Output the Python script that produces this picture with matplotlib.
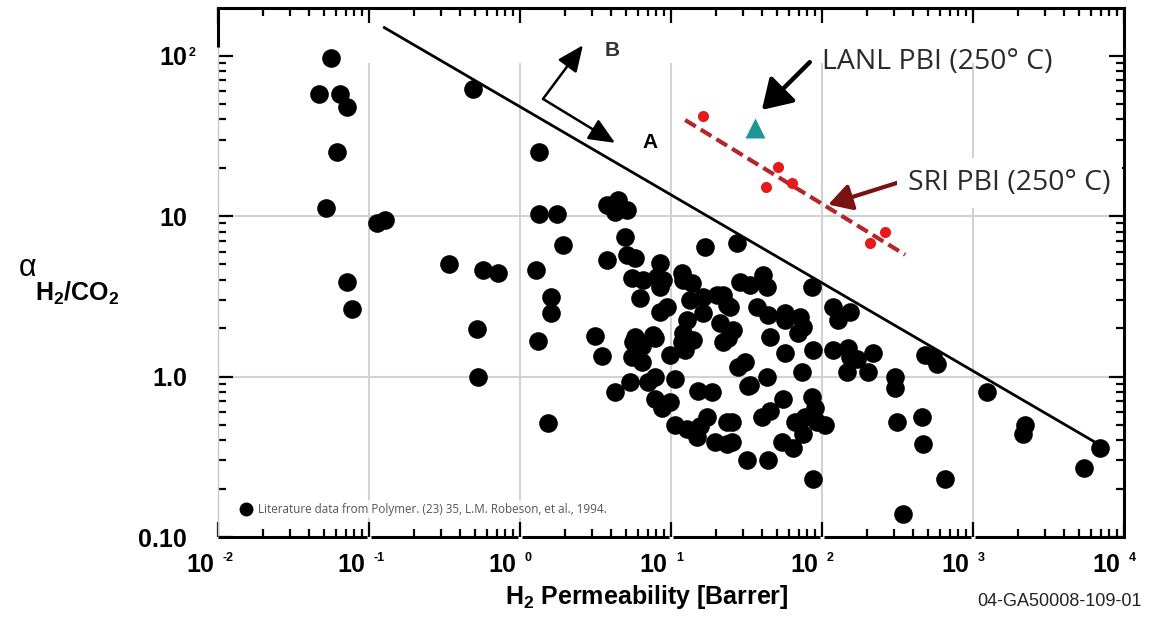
import matplotlib
matplotlib.use("Agg")
import matplotlib.pyplot as plt
from matplotlib.lines import Line2D

plt.rcParams["font.family"] = ["Liberation Sans", "DejaVu Sans"]
plt.rcParams["mathtext.fontset"] = "custom"
plt.rcParams["mathtext.bf"] = "Liberation Sans:bold"
plt.rcParams["mathtext.rm"] = "Liberation Sans"
plt.rcParams["mathtext.it"] = "Liberation Sans:italic"

# ── Robeson 1994 literature data: H2 permeability [Barrer] vs H2/CO2 selectivity
lit_perm = [
    0.056, 0.047, 0.064, 0.071, 0.061, 0.052, 0.113, 0.128, 0.071, 0.077,
    0.49, 0.34, 0.57, 0.71, 0.52, 0.53,
    1.28, 1.60, 1.60, 1.32, 1.53, 1.34, 1.34, 1.76, 1.93,
    3.77, 4.46, 5.11, 4.26, 4.96, 3.77, 5.11, 5.78, 8.46, 5.52, 6.53, 8.08,
    8.85, 8.46, 6.23, 8.46, 9.4, 16.8, 27.4, 11.8, 13.8, 12.0,
    3.14, 5.78, 7.6, 3.49, 5.6, 6.43, 7.8, 5.52, 6.43, 9.85, 11.8, 14.0, 12.4,
    5.35, 7.04, 7.8, 10.6, 4.26, 7.8, 8.7, 9.85, 15.1, 18.7,
    10.6, 12.8, 14.9, 17.3, 19.6, 23.5, 15.6, 23.5, 22.1,
    31.9, 43.9, 25.4, 32.4, 43.2, 55.2, 40.1, 45.3,
    28.6, 33.4, 40.7, 43.2, 85.9, 22.1, 24.6, 37.1, 43.9, 56.9, 71.5, 74.8,
    118, 153, 128, 25.7, 45.3, 23.9, 69.3, 56.9, 87.1, 27.8, 30.9, 33.4, 73.7,
    118, 149, 171, 218, 146, 202, 85.9, 90, 25.4, 66.2, 77.1, 92.7, 105,
    74.8, 54.3, 64.3, 87.1, 56.9, 153,
    304, 304, 481, 543, 578, 1240, 314, 459, 467, 653, 344,
    2210, 2140, 6930, 5430,
    13.4, 16.3, 20.2, 23.5, 12.8, 16.3, 21.1, 12.0,
]
lit_sel = [
    97, 58, 58, 48, 25, 11.3, 9.1, 9.5, 3.9, 2.65,
    62, 5.05, 4.6, 4.4, 1.99, 1.0,
    4.6, 3.15, 2.5, 1.67, 0.51, 25, 10.3, 10.3, 6.6,
    11.8, 12.6, 10.9, 10.6, 7.4, 5.35, 5.7, 5.5, 5.1, 4.1, 4.0, 4.2,
    4.0, 3.6, 3.1, 2.54, 2.7, 6.4, 6.8, 4.4, 3.85, 4.0,
    1.8, 1.77, 1.82, 1.35, 1.65, 1.54, 1.75, 1.33, 1.24, 1.37, 1.65, 1.70, 1.47,
    0.93, 0.93, 1.0, 0.97, 0.80, 0.72, 0.64, 0.69, 0.81, 0.80,
    0.50, 0.47, 0.42, 0.56, 0.39, 0.38, 0.49, 0.52, 1.63,
    0.30, 0.30, 0.39, 0.87, 1.0, 0.72, 0.56, 0.61,
    3.9, 3.7, 4.3, 3.6, 3.6, 3.24, 2.7, 2.7, 2.43, 2.5, 2.36, 2.05,
    2.7, 2.54, 2.26, 1.96, 1.77, 1.75, 1.88, 1.41, 1.47, 1.15, 1.24, 0.89, 1.06,
    1.47, 1.51, 1.28, 1.41, 1.06, 1.06, 0.75, 0.64, 0.52, 0.52, 0.56, 0.52, 0.50,
    0.44, 0.39, 0.36, 0.23, 2.26, 1.33,
    1.0, 0.85, 1.37, 1.33, 1.19, 0.80, 0.52, 0.56, 0.38, 0.23, 0.14,
    0.50, 0.44, 0.36, 0.27,
    3.0, 3.15, 3.24, 2.8, 2.26, 2.5, 2.17, 1.88,
]

# upper bound line
bound_perm = [0.124, 6430]
bound_sel = [151, 0.39]

# SRI PBI at 250 C and its trend line
sri_perm = [16.3, 51.1, 63.3, 42.6, 261, 208]
sri_sel = [42, 20.3, 16.1, 15.2, 7.9, 6.8]
sri_fit_perm = [12.4, 355]
sri_fit_sel = [39.7, 5.74]

# LANL PBI at 250 C
lanl_perm = [36]
lanl_sel = [35.4]

# annotation arrows (tail -> head, data coords)
lanl_arrow = ((83, 91), (40, 45.9))
sri_arrow = ((314, 16.1), (110, 11.8))
ab_corner = (1.42, 53.7)
a_head = (4.26, 28.6)
b_head = (2.61, 116)

x_decades = [1e-2, 1e-1, 1e0, 1e1, 1e2, 1e3, 1e4]
x_exps = ["-2", "-1", "0", "1", "2", "3", "4"]
y_ticks = [0.1, 1.0, 10, 100]
y_labels = ["0.10", "1.0", "10", "10"]

W, H = 1149, 622
fig = plt.figure(figsize=(W / 100, H / 100), dpi=100)
ax = fig.add_axes([218 / W, 1 - 537 / H, (1124 - 218) / W, (537 - 8) / H])
ax.set_xscale("log")
ax.set_yscale("log")
ax.set_xlim(1e-2, 1e4)
ax.set_ylim(0.1, 198)

# grid: vertical lines at inner decades, horizontal at 1 and 10
grid_c = "#d2d2d2"
ax.vlines(x_decades[1:-1], 0.1, 90, color=grid_c, lw=1.5, zorder=0)
ax.hlines([1.0, 10], 1e-2, 1e4, color=grid_c, lw=1.5, zorder=0)

# spines
for side in ("top", "right"):
    ax.spines[side].set_linewidth(2.2)
ax.spines["left"].set_color("#c8c8c8")
ax.spines["left"].set_linewidth(1.0)
ax.spines["bottom"].set_visible(False)
ax.plot([0, 0], [113, 198], transform=ax.get_yaxis_transform(), color="k",
        lw=2.2, clip_on=False, solid_capstyle="butt", zorder=5)
for k in range(-2, 4):
    lo = 10.0 ** k * (1.025 if k > -2 else 1.0)
    hi = 10.0 ** (k + 1) / (1.025 if k < 3 else 1.0)
    ax.plot([lo, hi], [0, 0], transform=ax.get_xaxis_transform(), color="k",
            lw=2.2, clip_on=False, solid_capstyle="butt", zorder=5)

ax.tick_params(which="both", direction="in", top=True, right=True, colors="k")
ax.tick_params(which="major", length=11, width=1.6)
ax.tick_params(which="minor", length=5.5, width=1.6)
ax.set_xticks(x_decades)
ax.set_xticklabels([])
ax.set_yticks(y_ticks)
ax.set_yticklabels([])

# tick labels: "10" with a small raised exponent
for xv, ex in zip(x_decades, x_exps):
    ax.annotate("10", xy=(xv, 0), xycoords=("data", "axes fraction"),
                xytext=(-3, -11.5), textcoords="offset points",
                ha="right", va="top", fontsize=18, fontweight="bold")
    ax.annotate(ex, xy=(xv, 0), xycoords=("data", "axes fraction"),
                xytext=(3.5, -10.5), textcoords="offset points",
                ha="left", va="top", fontsize=9, fontweight="bold")
for yv, lab in zip(y_ticks, y_labels):
    ax.annotate(lab, xy=(0, yv), xycoords=("axes fraction", "data"),
                xytext=(-22.5, -2), textcoords="offset points",
                ha="right", va="center", fontsize=18, fontweight="bold")
ax.annotate("2", xy=(0, 100), xycoords=("axes fraction", "data"),
            xytext=(-21.5, 6), textcoords="offset points",
            ha="left", va="top", fontsize=9, fontweight="bold")

# data
ax.scatter(lit_perm, lit_sel, s=180, color="black", linewidths=0, zorder=3)
ax.plot(bound_perm, bound_sel, color="black", lw=2.0, zorder=4,
        solid_capstyle="butt")
ax.plot(sri_fit_perm, sri_fit_sel, color="#b3262a", lw=3.0,
        dashes=(3.0, 1.4), zorder=4)
ax.plot(sri_perm, sri_sel, ls="none", marker="o", ms=8, color="#e8191b",
        mec="none", zorder=5)
ax.plot(lanl_perm, lanl_sel, ls="none", marker="^", ms=15, color="#1f9696",
        mec="none", zorder=5)

# arrows
ax.annotate("", xy=lanl_arrow[1], xytext=lanl_arrow[0],
            arrowprops=dict(arrowstyle="-|>,head_length=0.8,head_width=0.5",
                            lw=3.2, color="black", mutation_scale=22,
                            shrinkA=0, shrinkB=0))
ax.annotate("", xy=sri_arrow[1], xytext=sri_arrow[0],
            arrowprops=dict(arrowstyle="-|>,head_length=0.7,head_width=0.4",
                            lw=3, color="#7a1214", mutation_scale=20,
                            shrinkA=0, shrinkB=0))
for head in (a_head, b_head):
    ax.annotate("", xy=head, xytext=ab_corner,
                arrowprops=dict(arrowstyle="-|>,head_length=0.8,head_width=0.35",
                                lw=1.8, color="black", mutation_scale=20,
                                shrinkA=0, shrinkB=0))
ax.text(6.5, 28.6, "A", fontsize=15, fontweight="bold", ha="left", va="center")
ax.text(3.66, 108, "B", fontsize=15, fontweight="bold", color="#333333",
        ha="left", va="center")

# legend
leg_handle = Line2D([], [], ls="none", marker="o", ms=9, color="black")
leg = ax.legend([leg_handle],
                ["Literature data from Polymer. (23) 35, L.M. Robeson, et al., 1994."],
                loc="lower left", bbox_to_anchor=(0.016, 0.025), frameon=True,
                fancybox=False, borderpad=0.2, handletextpad=0.5,
                handlelength=1.0, prop={"family": "Open Sans", "size": 8.4})
leg.get_frame().set_facecolor("white")
leg.get_frame().set_edgecolor("none")
for t in leg.get_texts():
    t.set_color("#555555")

# labels
fig.text(822 / W, 1 - 62 / H, "LANL PBI (250\u00b0 C)", family="Open Sans",
         fontsize=20.5, color="#2b2b2b", ha="left", va="center")
fig.text(908 / W, 1 - 183 / H, "SRI PBI (250\u00b0 C)", family="Open Sans",
         fontsize=20.5, color="#2b2b2b", ha="left", va="center",
         bbox=dict(facecolor="white", edgecolor="none", pad=8))
fig.text(19 / W, 1 - 268 / H, "\u03b1", fontsize=22, ha="left", va="center")
fig.text(35 / W, 1 - 293 / H, r"$\mathbf{H_2/CO_2}$", fontsize=18,
         ha="left", va="center")
fig.text(647 / W, 1 - 597 / H, r"$\mathbf{H_2\ Permeability\ [Barrer]}$",
         fontsize=18, ha="center", va="center")
fig.text(1142 / W, 1 - 601 / H, "04-GA50008-109-01", fontsize=13,
         color="#222222", ha="right", va="center")

fig.savefig("out.png", dpi=100, facecolor="white")
